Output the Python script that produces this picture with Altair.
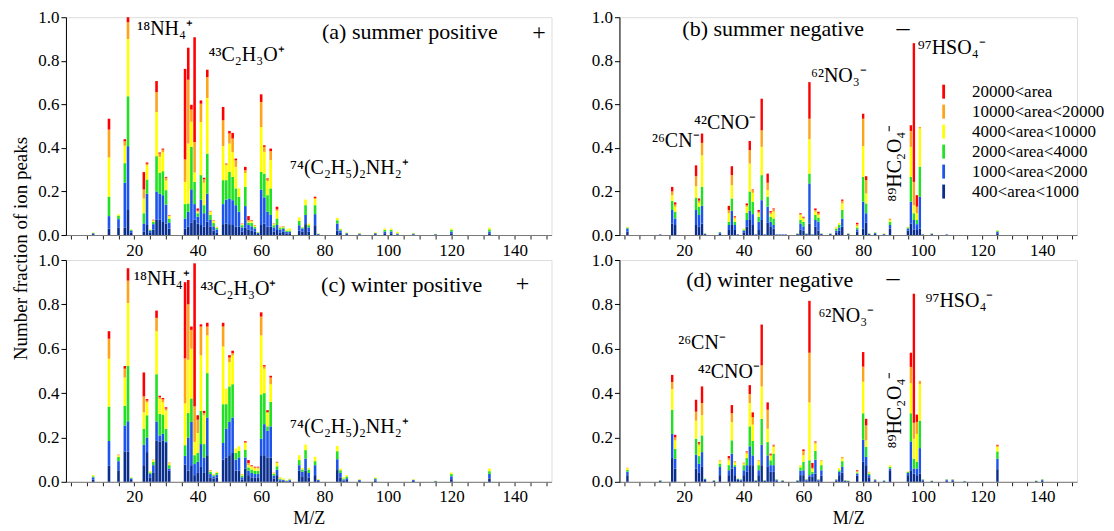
import altair as alt
import pandas as pd

FONT = "Liberation Serif"

CATS = ["400<area<1000", "1000<area<2000", "2000<area<4000",
        "4000<area<10000", "10000<area<20000", "20000<area"]
COLORS = ["#0b2e8c", "#1d55ec", "#22e022", "#ffff00", "#ffa31a", "#ff0000"]

# ---------------- (a) summer positive : cumulative tops per class ----------------
A_MZ = [7,12,15,17,18, 19,23,24,25,26, 27,28,29,30,31, 36,37,38,39,40, 41,42,43,44,45,
        46,48,49,50,51, 52,53,54,55,56, 57,58,59,60,61, 62,63,64,65,66, 67,68,69,72,73,
        74,75,77,78,84, 85,87,91,96,99, 101,103,108,115,120,132]
A_C1 = [.004,.030,.035,.035,.115, .010,.015,.046,.010,.025, .070,.070,.060,.053,.030, .030,.038,.056,.070,.053,
        .046,.038,.061,.038,.020, .010,.050,.053,.050,.046, .038,.038,.015,.035,.026, .020,.015,.005,.046,.053,
        .038,.038,.015,.023,.010, .015,.008,.008,.020,.015, .050,.015,.045,.003,.020, .010,.004,.003,.004,.008,
        .008,.003,.003,.002,.008,.008]
A_C2 = [.008,.087,.073,.240,.408, .020,.053,.190,.020,.050, .200,.190,.183,.140,.056, .076,.107,.210,.142,.084,
        .163,.100,.190,.069,.040, .025,.142,.163,.168,.160, .137,.107,.035,.133,.046, .040,.030,.010,.209,.173,
        .107,.092,.035,.046,.025, .028,.015,.015,.045,.030, .092,.035,.096,.005,.053, .020,.008,.006,.008,.016,
        .016,.006,.006,.004,.016,.016]
A_C3 = [.010,.176,.089,.330,.637, .024,.100,.255,.024,.060, .362,.285,.293,.206,.075, .142,.145,.405,.244,.100,
        .275,.137,.374,.092,.055, .032,.252,.252,.290,.267, .214,.176,.045,.221,.057, .055,.038,.013,.290,.282,
        .183,.214,.045,.076,.032, .035,.020,.020,.065,.035, .137,.045,.137,.006,.068, .026,.010,.008,.010,.024,
        .024,.008,.008,.005,.024,.026]
A_C4 = [.012,.356,.096,.410,.900, .026,.168,.320,.026,.066, .565,.359,.380,.250,.088, .244,.420,.520,.287,.107,
        .519,.240,.629,.107,.065, .036,.408,.320,.420,.380, .313,.214,.050,.285,.061, .063,.043,.015,.496,.382,
        .247,.344,.050,.111,.036, .039,.026,.030,.081,.038, .163,.053,.165,.007,.079, .030,.012,.010,.013,.030,
        .030,.015,.010,.006,.030,.034]
A_C5 = [.012,.484,.096,.430,.977, .026,.209,.327,.026,.068, .656,.374,.392,.263,.090, .347,.713,.576,.427,.112,
        .603,.256,.725,.110,.068, .038,.527,.326,.466,.443, .343,.214,.052,.298,.069, .067,.045,.015,.611,.405,
        .255,.385,.052,.118,.037, .040,.026,.030,.081,.038, .163,.053,.170,.007,.079, .030,.012,.010,.013,.030,
        .030,.015,.010,.006,.030,.034]
A_C6 = [.012,.534,.096,.440,1.00, .026,.289,.333,.026,.070, .707,.379,.397,.267,.092, .763,.860,.598,.908,.122,
        .618,.263,.759,.111,.069, .038,.588,.328,.478,.469, .351,.214,.053,.313,.087, .069,.046,.015,.646,.412,
        .260,.397,.053,.130,.038, .041,.026,.030,.081,.038, .163,.053,.176,.007,.079, .030,.012,.010,.013,.030,
        .030,.015,.010,.006,.030,.034]

# ---------------- (b) summer negative ----------------
B_MZ = [1,12,16,17,24, 25,26,27,32,35, 36,37,38,40,41, 42,43,44,45,46, 47,48,49,50,51,
        52,53,54,58,59, 60,61,62,63,64, 65,66,69,71,72, 73,75,78,80,81, 82,84,87,89,95,
        96,97,98,99,100, 103,108,125]
B_C1 = [.015,.002,.053,.046,.046, .038,.053,.004,.006,.023, .046,.023,.002,.010,.038, .069,.046,.002,.023,.069,
        .002,.056,.040,.030,.002, .002,.002,.002,.004,.026, .020,.004,.053,.002,.038, .020,.004,.004,.010,.020,
        .038,.004,.015,.030,.056, .004,.006,.003,.030,.020, .053,.026,.023,.030,.002, .004,.002,.008]
B_C2 = [.030,.003,.115,.076,.115, .092,.134,.006,.012,.046, .111,.046,.003,.020,.069, .111,.096,.003,.061,.160,
        .003,.130,.061,.046,.003, .003,.003,.003,.006,.053, .040,.006,.237,.003,.069, .061,.006,.006,.020,.035,
        .076,.006,.026,.153,.100, .006,.010,.005,.046,.030, .153,.069,.050,.176,.003, .006,.003,.015]
B_C3 = [.035,.003,.157,.107,.172, .130,.221,.007,.014,.061, .168,.061,.003,.025,.102, .200,.153,.003,.084,.275,
        .003,.176,.084,.076,.003, .003,.003,.003,.007,.069, .060,.007,.282,.003,.092, .080,.007,.007,.030,.048,
        .115,.007,.035,.267,.145, .007,.012,.006,.061,.035, .267,.100,.069,.313,.003, .007,.003,.020]
B_C4 = [.038,.003,.183,.130,.224, .148,.366,.008,.015,.100, .229,.076,.003,.030,.130, .328,.194,.003,.100,.405,
        .003,.206,.096,.107,.003, .003,.003,.003,.008,.092, .075,.008,.440,.003,.107, .092,.008,.008,.038,.056,
        .145,.008,.041,.408,.191, .008,.013,.008,.069,.038, .405,.137,.100,.489,.003, .008,.003,.023]
B_C5 = [.038,.003,.200,.140,.270, .158,.423,.008,.015,.115, .275,.084,.003,.030,.137, .390,.206,.003,.107,.481,
        .003,.240,.104,.118,.003, .003,.003,.003,.008,.096, .080,.008,.534,.003,.115, .099,.008,.008,.038,.056,
        .157,.008,.050,.534,.252, .008,.013,.008,.075,.038, .478,.244,.130,.496,.003, .008,.003,.023]
B_C6 = [.038,.003,.221,.150,.320, .168,.466,.008,.015,.134, .316,.087,.003,.030,.145, .432,.209,.003,.115,.626,
        .003,.282,.110,.122,.003, .003,.003,.003,.008,.100, .084,.008,.702,.003,.122, .107,.008,.008,.038,.056,
        .163,.008,.056,.557,.270, .008,.013,.008,.075,.038, .504,.881,.183,.496,.003, .008,.003,.023]

# ---------------- (c) winter positive ----------------
C_MZ = [7,12,15,17,18, 19,23,24,25,26, 27,28,29,30,31, 36,37,38,39,40, 41,42,43,44,45,
        46,48,49,50,51, 52,53,54,55,56, 57,58,59,60,61, 62,63,64,65,66, 67,68,69,72,73,
        74,75,77,78,84, 85,86,87,91,96, 108,115,120,132]
C_C1 = [.010,.072,.052,.137,.137, .008,.075,.134,.020,.040, .187,.182,.187,.175,.050, .078,.050,.075,.030,.040,
        .070,.040,.120,.020,.015, .020,.100,.110,.120,.130, .050,.050,.010,.060,.030, .020,.020,.020,.120,.120,
        .110,.110,.015,.030,.005, .004,.002,.005,.050,.025, .050,.020,.030,.004,.053, .020,.005,.008,.004,.006,
        .004,.002,.012,.015]
C_C2 = [.020,.184,.093,.254,.273, .015,.167,.200,.035,.075, .272,.209,.216,.182,.060, .117,.200,.270,.080,.090,
        .170,.110,.290,.035,.025, .032,.175,.240,.270,.290, .100,.110,.020,.110,.050, .040,.035,.035,.195,.260,
        .230,.250,.028,.055,.010, .008,.004,.009,.075,.045, .105,.040,.075,.008,.102, .040,.010,.016,.008,.012,
        .008,.003,.025,.035]
C_C3 = [.025,.339,.112,.343,.522, .018,.239,.300,.042,.090, .485,.306,.303,.239,.075, .165,.310,.376,.120,.130,
        .320,.170,.490,.045,.030, .040,.350,.350,.430,.440, .130,.140,.028,.145,.065, .055,.050,.050,.394,.400,
        .250,.360,.035,.070,.014, .010,.006,.011,.098,.055, .143,.055,.093,.010,.138, .052,.015,.024,.010,.016,
        .010,.004,.035,.048]
C_C4 = [.030,.555,.119,.470,.806, .020,.313,.358,.048,.097, .679,.373,.358,.321,.083, .353,.550,.600,.180,.220,
        .570,.300,.660,.050,.034, .044,.610,.420,.540,.570, .150,.160,.033,.175,.075, .068,.060,.060,.660,.510,
        .310,.440,.040,.085,.018, .015,.008,.014,.120,.063, .168,.063,.113,.012,.162, .060,.020,.030,.012,.020,
        .012,.005,.042,.060]
C_C5 = [.030,.645,.121,.510,.907, .020,.385,.366,.048,.100, .739,.381,.372,.330,.087, .556,.800,.685,.340,.280,
        .700,.310,.700,.052,.035, .045,.700,.420,.560,.580, .150,.160,.035,.178,.085, .072,.065,.065,.745,.520,
        .315,.470,.042,.088,.020, .015,.008,.014,.120,.063, .168,.063,.113,.012,.162, .060,.020,.030,.012,.020,
        .012,.005,.042,.060]
C_C6 = [.030,.679,.122,.522,.963, .020,.493,.373,.048,.100, .772,.388,.378,.336,.087, .900,.910,.700,.985,.300,
        .710,.320,.717,.053,.035, .045,.717,.420,.571,.591, .150,.160,.035,.183,.098, .075,.068,.068,.764,.526,
        .323,.478,.042,.090,.020, .015,.008,.014,.120,.063, .168,.063,.113,.012,.162, .060,.020,.030,.012,.020,
        .012,.005,.042,.060]

# ---------------- (d) winter negative ----------------
D_MZ = [1,12,16,17,24, 25,26,27,30,32, 35,36,37,38,39, 40,41,42,43,44, 45,46,47,48,49,
        50,51,53,58,59, 60,61,62,63,64, 65,66,71,72,73, 74,75,78,80,81, 82,84,87,89,95,
        96,97,98,99,100, 103,108,110,114,125, 138,140]
D_C1 = [.030,.004,.107,.060,.060, .040,.067,.008,.004,.030, .030,.060,.030,.008,.006, .030,.045,.075,.075,.004,
        .030,.075,.004,.067,.045, .045,.006,.004,.004,.030, .030,.006,.022,.022,.037, .006,.027,.006,.030,.042,
        .004,.003,.027,.090,.075, .020,.006,.003,.052,.030, .052,.037,.030,.037,.006, .003,.006,.006,.002,.057,
        .003,.006]
D_C2 = [.045,.006,.216,.104,.122, .082,.134,.012,.006,.067, .052,.127,.067,.012,.010, .052,.075,.160,.119,.006,
        .052,.167,.006,.119,.075, .075,.010,.006,.006,.050, .052,.010,.030,.037,.100, .010,.052,.010,.045,.067,
        .006,.004,.037,.190,.112, .030,.010,.005,.060,.040, .182,.060,.060,.152,.010, .004,.010,.010,.003,.104,
        .004,.010]
D_C3 = [.053,.007,.325,.149,.194, .116,.209,.014,.007,.082, .075,.187,.075,.014,.011, .075,.107,.250,.184,.007,
        .075,.284,.007,.179,.097, .127,.011,.007,.007,.065, .090,.011,.097,.045,.139, .011,.075,.011,.052,.093,
        .007,.005,.042,.309,.157, .037,.011,.006,.067,.045, .309,.104,.090,.276,.011, .005,.011,.011,.004,.137,
        .005,.011]
D_C4 = [.061,.008,.418,.187,.276, .164,.300,.015,.008,.093, .097,.269,.087,.015,.012, .082,.127,.355,.258,.008,
        .093,.430,.008,.239,.116, .157,.012,.008,.008,.075, .120,.012,.358,.057,.172, .012,.093,.012,.063,.105,
        .008,.006,.045,.451,.187, .042,.012,.006,.075,.048, .445,.194,.216,.440,.012, .006,.012,.012,.004,.157,
        .006,.012]
D_C5 = [.063,.008,.450,.200,.316, .172,.355,.015,.008,.097, .106,.309,.093,.015,.012, .087,.134,.396,.291,.008,
        .097,.525,.008,.325,.122, .164,.012,.008,.008,.075, .139,.012,.582,.063,.179, .012,.097,.012,.063,.112,
        .008,.006,.048,.519,.254, .045,.012,.006,.075,.048, .518,.266,.270,.455,.012, .006,.012,.012,.004,.163,
        .006,.012]
D_C6 = [.063,.008,.482,.212,.370, .179,.430,.015,.008,.097, .116,.346,.093,.015,.012, .087,.137,.436,.313,.008,
        .097,.709,.008,.358,.127, .167,.012,.008,.008,.075, .146,.012,.816,.085,.182, .012,.097,.012,.063,.112,
        .008,.006,.052,.585,.284, .045,.012,.006,.075,.048, .582,.848,.303,.455,.012, .006,.012,.012,.004,.167,
        .006,.012]

# ---------------- annotation texts: (text, m/z anchor, value anchor, font size, angle) ----------------
A_TEXT = [("(a) summer positive", 79.2, 0.900, 22, 0), ("+", 145.5, 0.894, 24, 0),
          ("¹⁸NH₄⁺", 20.9, 0.917, 20, 0), ("⁴³C₂H₃O⁺", 43.4, 0.800, 20, 0),
          ("⁷⁴(C₂H₅)₂NH₂⁺", 69.1, 0.282, 20, 0)]
B_TEXT = [("(b) summer negative", 19.4, 0.916, 22, 0), ("–", 91.2, 0.912, 26, 0),
          ("²⁶CN⁻", 9.2, 0.404, 20, 0), ("⁴²CNO⁻", 23.3, 0.488, 20, 0),
          ("⁶²NO₃⁻", 62.5, 0.702, 20, 0), ("⁹⁷HSO₄⁻", 98.3, 0.832, 20, 0),
          ("⁸⁹HC₂O₄⁻", 92.7, 0.153, 20, 270)]
C_TEXT = [("(c) winter positive", 78.9, 0.857, 22, 0), ("+", 140.3, 0.859, 24, 0),
          ("¹⁸NH₄⁺", 19.9, 0.887, 20, 0), ("⁴³C₂H₃O⁺", 40.8, 0.842, 20, 0),
          ("⁷⁴(C₂H₅)₂NH₂⁺", 69.1, 0.218, 20, 0)]
D_TEXT = [("(d) winter negative", 20.7, 0.880, 22, 0), ("–", 87.8, 0.882, 26, 0),
          ("²⁶CN⁻", 18.0, 0.601, 20, 0), ("⁴²CNO⁻", 24.6, 0.466, 20, 0),
          ("⁶²NO₃⁻", 65.0, 0.722, 20, 0), ("⁹⁷HSO₄⁻", 100.9, 0.789, 20, 0),
          ("⁸⁹HC₂O₄⁻", 92.7, 0.150, 20, 270)]

LEG_ORDER = CATS[::-1]
LEG_COLORS = COLORS[::-1]


def long_table(mz, cols):
    rows = []
    for i, m in enumerate(mz):
        prev = 0.0
        for k, c in enumerate(cols):
            top = c[i]
            if top > prev:
                rows.append({"mz": m, "lo": prev, "hi": top, "cat": CATS[k]})
                prev = top
    return pd.DataFrame(rows)


def panel(mz, cols, texts, width, height, bar_w, top_row, left_col, with_legend):
    df = long_table(mz, cols)
    tdf = pd.DataFrame(texts, columns=["t", "mz", "lo", "s", "a"])

    xs = alt.Scale(domain=[0, 150], nice=False, zero=False)
    ys = alt.Scale(domain=[0, 1], nice=False)

    xkw = dict(values=list(range(0, 151, 5)),
               labelExpr="datum.value % 20 == 0 && datum.value > 0 ? datum.label : ''",
               tickSize=4, tickColor="#222222", domainColor="#777777", labelPadding=3,
               labelOverlap=False, labelFlush=False, grid=False,
               labelFont=FONT, labelFontSize=17)
    if top_row:
        x_axis = alt.Axis(title=None, **xkw)
    else:
        x_axis = alt.Axis(title="M/Z", titlePadding=5, titleFont=FONT, titleFontSize=18, **xkw)

    ykw = dict(values=[0, 0.2, 0.4, 0.6, 0.8, 1.0], format=".1f", tickSize=5,
               tickColor="black", domainColor="black", labelPadding=2, grid=False,
               labelOverlap=False, labelFlush=False, labelFont=FONT, labelFontSize=17)
    if left_col and top_row:
        y_axis = alt.Axis(title="Number fraction of ion peaks", titleY=231, titlePadding=7,
                          titleFont=FONT, titleFontSize=19, **ykw)
    else:
        y_axis = alt.Axis(title=None, **ykw)

    if with_legend:
        legend = alt.Legend(orient="none", legendX=316, legendY=66, title=None,
                            symbolType="M-0.2,-1L0.2,-1L0.2,1L-0.2,1Z", symbolSize=196,
                            symbolStrokeWidth=0, labelFont=FONT, labelFontSize=17,
                            labelColor="black", labelOffset=20, rowPadding=2, padding=0)
    else:
        legend = None

    bars = alt.Chart(df).mark_bar(size=bar_w).encode(
        x=alt.X("mz:Q", scale=xs, axis=x_axis),
        y=alt.Y("lo:Q", scale=ys, axis=y_axis),
        y2="hi:Q",
        color=alt.Color("cat:N", scale=alt.Scale(domain=LEG_ORDER, range=LEG_COLORS), legend=legend),
    )
    text = alt.Chart(tdf).mark_text(align="left", baseline="alphabetic", font=FONT, color="black").encode(
        x=alt.X("mz:Q", scale=xs, axis=x_axis),
        y=alt.Y("lo:Q", scale=ys, axis=y_axis),
        text="t:N",
        size=alt.Size("s:Q", scale=None),
        angle=alt.Angle("a:Q", scale=None),
    )
    return alt.layer(bars, text).properties(width=width, height=height)


pa = panel(A_MZ, [A_C1, A_C2, A_C3, A_C4, A_C5, A_C6], A_TEXT, 486, 218, 2.6, True, True, False)
pb = panel(B_MZ, [B_C1, B_C2, B_C3, B_C4, B_C5, B_C6], B_TEXT, 458, 218, 2.4, True, False, True)
pc = panel(C_MZ, [C_C1, C_C2, C_C3, C_C4, C_C5, C_C6], C_TEXT, 486, 222, 2.6, False, True, False)
pd_ = panel(D_MZ, [D_C1, D_C2, D_C3, D_C4, D_C5, D_C6], D_TEXT, 458, 222, 2.4, False, False, False)

chart = alt.concat(pa, pb, pc, pd_, columns=2, spacing={"row": 25, "column": 68},
                   bounds="flush", align="each").resolve_scale(
    color="independent"
).configure_view(stroke=None).configure(font=FONT).configure_axis(
    labelFont=FONT, titleFont=FONT, labelFontSize=17, titleFontSize=17,
    titleFontWeight="normal", labelColor="black", titleColor="black"
).properties(padding={"left": 3, "right": 0, "top": -1, "bottom": 0}, background="white")

chart.save("out.html", embed_options={"renderer": "svg", "actions": False})
